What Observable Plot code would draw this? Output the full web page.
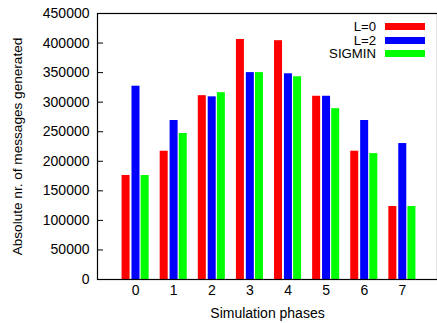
<!DOCTYPE html>
<html>
<head>
<meta charset="utf-8">
<script src="https://cdn.jsdelivr.net/npm/d3@7"></script>
<script src="https://cdn.jsdelivr.net/npm/@observablehq/plot@0.6"></script>
<style>
  html, body { margin: 0; padding: 0; background: #fff; }
  #wrap { position: relative; width: 437px; height: 323px; overflow: hidden; font-family: "Liberation Sans", Arial, sans-serif; }
  #legend { position: absolute; top: 19.5px; left: 300px; font-size: 13.2px; color: #000; }
  .row { display: flex; align-items: center; justify-content: flex-end; height: 13.7px; width: 125px; }
  .row span.t { display: inline-block; line-height: 13px; height: 13px; }
  .sw { display: inline-block; width: 40px; height: 7px; margin-left: 9px; }
</style>
</head>
<body>
<div id="wrap"></div>
<script>
const phases = [0, 1, 2, 3, 4, 5, 6, 7];
const seriesNames = ["L=0", "L=2", "SIGMIN"];
const seriesColors = ["#ff0000", "#0000ff", "#00ff00"];
const valuesL0 = [176000, 217000, 311000, 406000, 404000, 310000, 217000, 123500];
const valuesL2 = [327000, 269000, 309000, 350000, 348000, 310000, 269000, 230000];
const valuesSIGMIN = [176000, 247000, 316000, 350000, 343000, 289000, 213000, 123500];
const yTicks = [0, 50000, 100000, 150000, 200000, 250000, 300000, 350000, 400000, 450000];

const seriesValues = [valuesL0, valuesL2, valuesSIGMIN];
const offsets = [-0.25, 0.01, 0.25];
const halfW = 0.105;
const rows = [];
seriesNames.forEach((s, si) => {
  phases.forEach((p, pi) => {
    rows.push({series: s, phase: p, value: seriesValues[si][pi], x1: p + offsets[si] - halfW, x2: p + offsets[si] + halfW});
  });
});

const font = "Liberation Sans, Arial, sans-serif";
const chart = Plot.plot({
  width: 437,
  height: 323,
  marginLeft: 97,
  marginTop: 13,
  marginBottom: 44,
  marginRight: 0,
  style: {fontFamily: font, fontSize: "14px", color: "#000", background: "#fff"},
  x: {type: "linear", domain: [-1, 8], range: [97, 440]},
  y: {domain: [0, 450000], range: [279, 13]},
  color: {domain: seriesNames, range: seriesColors},
  marks: [
    Plot.rectY(rows, {x1: "x1", x2: "x2", y1: 0, y2: "value", fill: "series"}),
    Plot.axisY({ticks: yTicks, tickSize: 0, tickPadding: 8, tickFormat: d => String(d), label: null, fontSize: 14}),
    Plot.axisY({ticks: yTicks, tickSize: -6, text: null, label: null}),
    Plot.axisX({ticks: phases, tickSize: 0, tickPadding: 6, tickFormat: d => String(d), label: null, fontSize: 14}),
    Plot.frame({stroke: "#000", strokeWidth: 1.2}),
    Plot.text(["Absolute nr. of messages generated"], {frameAnchor: "left", rotate: -90, dx: -80, text: d => d, textAnchor: "middle", lineAnchor: "middle", fontSize: 13.6}),
    Plot.text(["Simulation phases"], {frameAnchor: "bottom", dy: 34, text: d => d, textAnchor: "middle", lineAnchor: "middle", fontSize: 14})
  ]
});
const wrap = document.getElementById("wrap");
wrap.appendChild(chart);
const legend = document.createElement("div");
legend.id = "legend";
seriesNames.forEach((s, i) => {
  const r = document.createElement("div");
  r.className = "row";
  const t = document.createElement("span");
  t.className = "t";
  t.textContent = s;
  const sw = document.createElement("span");
  sw.className = "sw";
  sw.style.background = seriesColors[i];
  r.appendChild(t); r.appendChild(sw);
  legend.appendChild(r);
});
wrap.appendChild(legend);
</script>
</body>
</html>
